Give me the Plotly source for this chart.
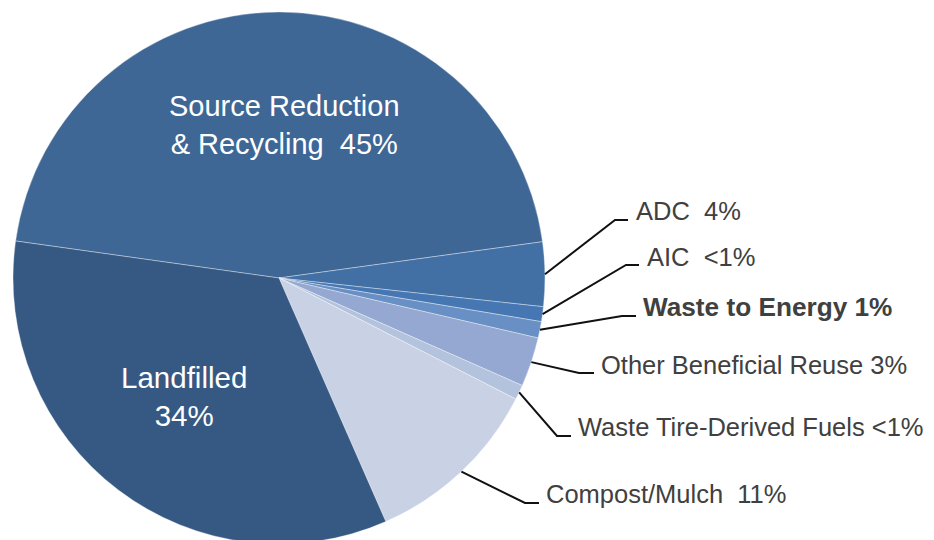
import math
import plotly.graph_objects as go

# ---------------- data ----------------
categories = ["Source Reduction & Recycling", "ADC", "AIC", "Waste to Energy",
              "Other Beneficial Reuse", "Waste Tire-Derived Fuels", "Compost/Mulch", "Landfilled"]
values = [45.6, 3.9, 0.9, 1.0, 3.0, 0.9, 10.9, 33.8]
pct_labels = ["45%", "4%", "<1%", "1%", "3%", "<1%", "11%", "34%"]
colors = ["#3e6796", "#4270a5", "#4677b3", "#6990c5", "#94a8d1", "#b3c3dd", "#c9d2e5", "#365984"]

# ---------------- layout constants ----------------
W, H = 934, 540
OFF = 8                      # page body margin: figure origin sits at (8, 8) on the page
CX, CY, R = 279 - OFF, 278 - OFF, 266
ROTATION = 278
NB = "\u00a0"


def px(x):
    """page-pixel x (as measured on the reference) -> paper fraction"""
    return x / W


def py(y):
    return 1 - y / H


fig = go.Figure()
fig.add_trace(go.Pie(
    labels=categories,
    values=values,
    sort=False,
    direction="clockwise",
    rotation=ROTATION,
    textinfo="none",
    hoverinfo="label+value",
    marker=dict(colors=colors, line=dict(color="rgba(255,255,255,0.45)", width=0.8)),
    domain=dict(x=[px(CX - R), px(CX + R)], y=[py(CY + R), py(CY - R)]),
    showlegend=False,
))


def esc(s):
    return s.replace("<", "&lt;")


inner = {
    0: ("Source Reduction<br>&amp; Recycling" + NB * 2 + pct_labels[0], 284, 125, 29),
    7: ("Landfilled<br>" + pct_labels[7], 184, 396, 29.5),
}
outer = {
    # idx: (text, text_x_left, text_center_y, elbow_x, elbow_y, end_x, bold)  (reference page px)
    1: (categories[1] + NB * 2 + pct_labels[1], 634, 211, 615, 220, 628, False),
    2: (categories[2] + NB * 2 + esc(pct_labels[2]), 645, 257, 626, 265, 639, False),
    3: (categories[3] + " " + pct_labels[3], 641, 307, 622, 316, 636, True),
    4: (categories[4] + " " + pct_labels[4], 599, 365, 579, 373, 594, False),
    5: (categories[5] + " " + esc(pct_labels[5]), 576, 427, 557, 436, 571, False),
    6: (categories[6] + NB * 2 + pct_labels[6], 544, 494, 525, 503, 539, False),
}

annotations = []
for i, (txt, x, y, fs) in inner.items():
    annotations.append(dict(
        text=txt, x=px(x - OFF), y=py(y - OFF), xref="paper", yref="paper",
        xanchor="center", yanchor="middle", showarrow=False, align="center",
        font=dict(family="Liberation Sans", size=fs, color="white"),
    ))

# mid-angle of each slice (clockwise from 12 o'clock)
total = sum(values)
cum = 0
mid_angles = []
for v in values:
    mid_angles.append(ROTATION + 360 * (cum + v / 2) / total)
    cum += v

shapes = []
for i, (txt, tx, ty, ex, ey, endx, bold) in outer.items():
    a = math.radians(mid_angles[i])
    sx = CX + R * math.sin(a)
    sy = CY - R * math.cos(a)
    path = "M {:.5f},{:.5f} L {:.5f},{:.5f} L {:.5f},{:.5f}".format(
        px(sx), py(sy), px(ex - OFF), py(ey - OFF), px(endx - OFF), py(ey - OFF))
    shapes.append(dict(type="path", path=path, xref="paper", yref="paper",
                       line=dict(color="#111111", width=2)))
    annotations.append(dict(
        text=("<b>" + txt + "</b>") if bold else txt,
        x=px(tx - OFF), y=py(ty - OFF), xref="paper", yref="paper",
        xanchor="left", yanchor="middle", showarrow=False,
        font=dict(family="Liberation Sans", size=26.2 if bold else 25.5, color="#404040"),
    ))

fig.update_layout(
    width=W, height=H,
    margin=dict(l=0, r=0, t=0, b=0),
    paper_bgcolor="white",
    plot_bgcolor="white",
    annotations=annotations,
    shapes=shapes,
)

fig.write_html("out.html")
